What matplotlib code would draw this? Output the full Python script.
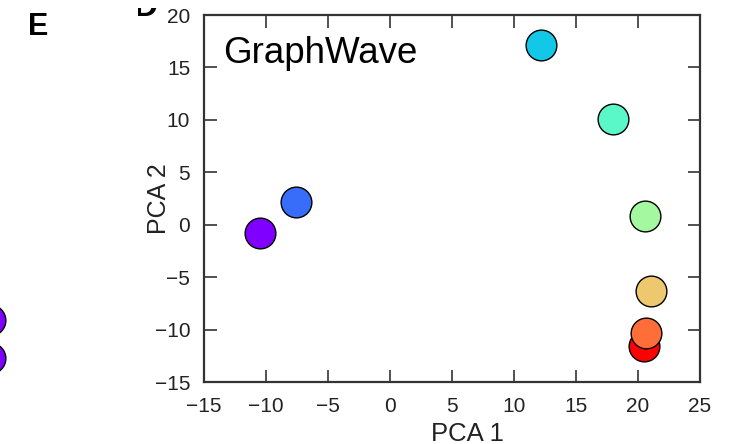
import matplotlib
matplotlib.use("Agg")
import matplotlib.pyplot as plt
from matplotlib.transforms import Bbox
import numpy as np

plt.rcParams['font.family'] = ['Liberation Sans', 'DejaVu Sans']

# GraphWave embedding, first two principal components
pca1 = [-10.5, -7.6, 12.15, 18.0, 20.6, 21.05, 20.65, 20.45]
pca2 = [-0.8, 2.2, 17.1, 10.05, 0.8, -6.3, -10.3, -11.6]

x_ticks = [-15, -10, -5, 0, 5, 10, 15, 20, 25]
y_ticks = [-15, -10, -5, 0, 5, 10, 15, 20]

# edge of the neighbouring panel (points in its own unit coordinates)
prev_x = [0.87, 0.87]
prev_y = [0.224, 0.117]

colors = plt.cm.rainbow(np.linspace(0, 1, len(pca1)))

W, H = 736, 444
fig = plt.figure(figsize=(W / 100, H / 100), dpi=100)

ax = fig.add_axes([0.2772, 0.1396, 0.6739, 0.8266])
# draw in reverse so the orange point sits over the red one
for i in range(len(pca1) - 1, -1, -1):
    ax.scatter(pca1[i], pca2[i], s=490, color=colors[i], edgecolor='black',
               linewidth=1.0, zorder=3 + (len(pca1) - i), clip_on=False)

ax.set_xlim(-15, 25)
ax.set_ylim(-15, 20)
ax.set_xticks(x_ticks)
ax.set_yticks(y_ticks)
ax.set_xticklabels([str(t).replace('-', '\u2212') for t in x_ticks])
ax.set_yticklabels([str(t).replace('-', '\u2212') for t in y_ticks])

spine_color = '#333333'
for sp in ax.spines.values():
    sp.set_linewidth(1.6)
    sp.set_color(spine_color)
ax.tick_params(direction='in', length=9, width=1.2, color=spine_color,
               top=True, right=True, labelsize=15, labelcolor='#222222')
ax.tick_params(axis='x', pad=11)
ax.tick_params(axis='y', pad=10)

ax.set_xlabel('PCA 1', fontsize=18.5, color='#222222')
ax.set_ylabel('PCA 2', fontsize=18, color='#222222')
ax.xaxis.set_label_coords(0.532, -0.11)
ax.yaxis.set_label_coords(-0.067, 0.5)

ax.text(0.038, 0.869, 'GraphWave', transform=ax.transAxes, fontsize=26.5,
        va='baseline', ha='left', color='black')

# panel letters
fig.text(28 / W, 1 - 35 / H, 'E', fontsize=22, fontweight='bold',
         va='baseline', ha='left')
d_letter = fig.text(134 / W, 1 - 16 / H, 'D', fontsize=24, fontweight='bold',
                    va='baseline', ha='left')
d_letter.set_clip_box(Bbox.from_extents(138, H - 17, 162, H - 8))
d_letter.set_clip_on(True)

ax_prev = fig.add_axes([-0.1, 0.1, 0.1, 0.8])
ax_prev.set_xlim(0, 1)
ax_prev.set_ylim(0, 1)
ax_prev.set_axis_off()
ax_prev.scatter(prev_x, prev_y, s=490, color=plt.cm.rainbow(0.0),
                edgecolor='black', linewidth=1.0, clip_on=False)

fig.savefig('out.png', dpi=100)
